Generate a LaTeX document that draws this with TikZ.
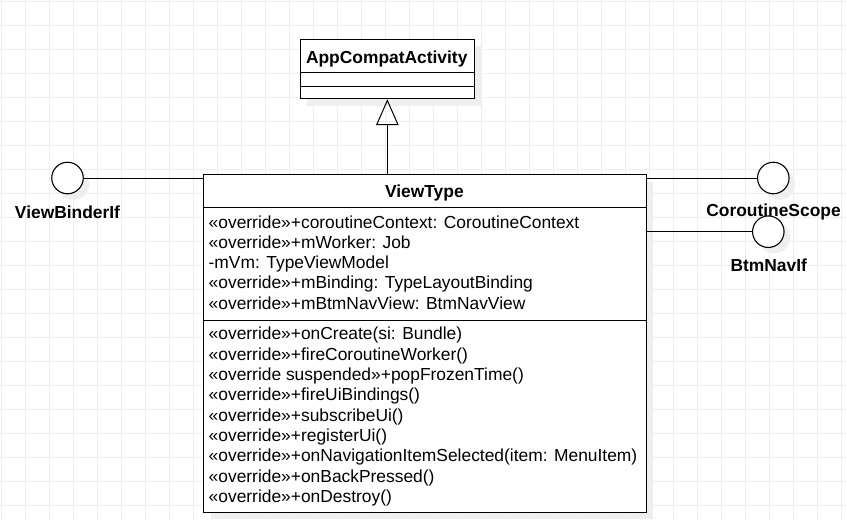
\documentclass[tikz,border=0pt]{standalone}
\usepackage{fontspec}
\setmainfont{Liberation Sans}
\usetikzlibrary{arrows.meta,shadows}
\definecolor{gridc}{HTML}{EEEEEE}
\definecolor{shadc}{HTML}{EFEFEF}
\begin{document}
\begin{tikzpicture}[x=1pt,y=-1pt,
  umlbox/.style={draw=black, line width=1.2pt, fill=white, anchor=north west, inner sep=0pt,
    drop shadow={shadow xshift=7pt, shadow yshift=-7pt, fill=shadc, opacity=1}},
  iface/.style={circle, draw=black, line width=1.1pt, fill=white, minimum size=31.5pt, inner sep=0pt,
    drop shadow={shadow xshift=6pt, shadow yshift=-6pt, fill=shadc, opacity=1}},
  conn/.style={draw=black, line width=1pt},
  sep/.style={draw=black, line width=1pt},
  mtext/.style={anchor=base west, inner sep=0pt, font=\fontsize{17.4}{20.2}\selectfont},
  btext/.style={anchor=base, inner sep=0pt, font=\fontsize{17.4}{20.2}\selectfont\bfseries}
]
\useasboundingbox (0,0) rectangle (847,520);
\fill[white] (0,0) rectangle (847,520);
% grid
\foreach \x in {1,25,...,841} \draw[gridc, line width=1pt] (\x,0) -- (\x,520);
\foreach \y in {1,25,...,505} \draw[gridc, line width=1pt] (0,\y) -- (847,\y);

% AppCompatActivity
\node[umlbox, minimum width=174.5pt, minimum height=59.5pt] (app) at (299.5,38.5) {};
\node[btext] (appt) at (386.75,63.1) {AppCompatActivity};
\draw[sep] (app.west |- 0,72.7) coordinate (a1) -- (a1 -| app.east);
\draw[sep] (app.west |- 0,86) coordinate (a2) -- (a2 -| app.east);

% ViewType
\node[umlbox, minimum width=442.7pt, minimum height=337.7pt] (vt) at (203,174) {};
\node[btext] (vtt) at (424.35,197.5) {ViewType};
\draw[sep] (vt.west |- 0,207.5) coordinate (v1) -- (v1 -| vt.east);
\draw[sep] (vt.west |- 0,320) coordinate (v2) -- (v2 -| vt.east);

\node[mtext] (at1) at (208.5,228.3) {«override»+coroutineContext: CoroutineContext};
\node[mtext] (at2) at (208.5,248.5) {«override»+mWorker: Job};
\node[mtext] (at3) at (208.5,268.7) {-mVm: TypeViewModel};
\node[mtext] (at4) at (208.5,288.9) {«override»+mBinding: TypeLayoutBinding};
\node[mtext] (at5) at (208.5,309.1) {«override»+mBtmNavView: BtmNavView};

\node[mtext] (m1) at (208.5,339.9) {«override»+onCreate(si: Bundle)};
\node[mtext] (m2) at (208.5,360.2) {«override»+fireCoroutineWorker()};
\node[mtext] (m3) at (208.5,380.5) {«override suspended»+popFrozenTime()};
\node[mtext] (m4) at (208.5,400.8) {«override»+fireUiBindings()};
\node[mtext] (m5) at (208.5,421.1) {«override»+subscribeUi()};
\node[mtext] (m6) at (208.5,441.4) {«override»+registerUi()};
\node[mtext] (m7) at (208.5,461.7) {«override»+onNavigationItemSelected(item: MenuItem)};
\node[mtext] (m8) at (208.5,482.0) {«override»+onBackPressed()};
\node[mtext] (m9) at (208.5,502.3) {«override»+onDestroy()};

% interfaces
\node[iface] (vb) at (67.5,178) {};
\node[btext] (vbl) at (67.5,218) {ViewBinderIf};
\node[iface] (cs) at (773.3,178) {};
\node[btext] (csl) at (773.5,216.5) {CoroutineScope};
\node[iface] (bn) at (768.3,231.7) {};
\node[btext] (bnl) at (768.7,271) {BtmNavIf};

% connectors
\draw[conn] (vb.east) -- (vb.east -| vt.west);
\draw[conn] (cs.west -| vt.east) -- (cs.west);
\draw[conn] (bn.west -| vt.east) -- (bn.west);
\draw[conn, -{Triangle[open, length=26pt, width=22.6pt, line width=1pt]}] (vt.north -| app.south) -- (app.south);
\end{tikzpicture}
\end{document}
